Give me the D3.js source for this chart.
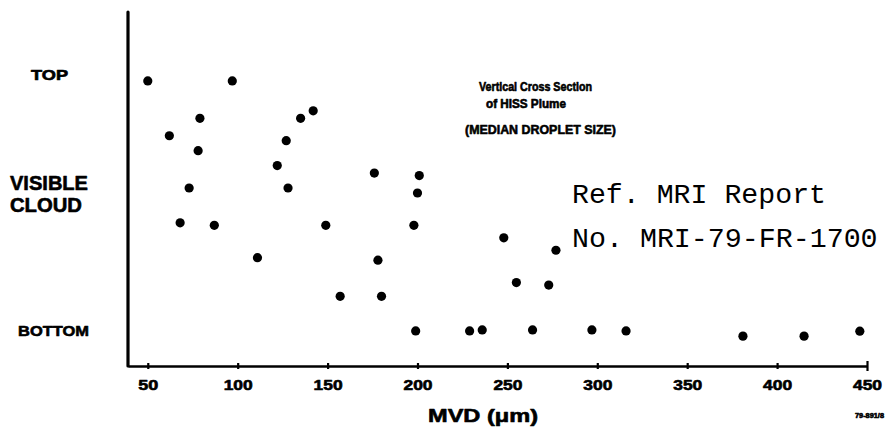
<!DOCTYPE html>
<html>
<head>
<meta charset="utf-8">
<script src="https://cdn.jsdelivr.net/npm/d3@7"></script>
<style>
  html, body { margin: 0; padding: 0; background: #fff; }
  svg { display: block; }
  .hand { font-family: "Liberation Sans", Arial, sans-serif; font-weight: bold; fill: #000;
          stroke: #000; stroke-width: 0.6; stroke-linejoin: round; }
  .typed { font-family: "Liberation Mono", "Courier New", monospace; fill: #000; }
</style>
</head>
<body>
<svg id="chart" width="888" height="430"></svg>
<script>
// Median volume diameter (µm) of each sample
const mvd = [50, 97, 142, 135, 79, 62, 127, 78, 122, 73, 128, 176, 201, 200,
             68, 87, 149, 198, 248, 277, 111, 178, 157, 180, 255, 273,
             199, 229, 236, 264, 297, 316, 381, 415, 446];
// Sample height in the visible cloud, % of depth (0 = bottom, 100 = top)
const heightPct = [100, 100, 88, 85, 85, 78, 76, 72, 66, 57, 57, 63, 62, 55,
                   43, 42, 42, 42, 37, 32, 29, 28, 13.5, 13.5, 19, 18,
                   -0.4, -0.4, 0, 0, 0, -0.4, -2.5, -2.5, -0.5];
// Axis tick values
const xTicks = [50, 100, 150, 200, 250, 300, 350, 400, 450];
// Level labels on the height axis
const levelLabels = [
  { lines: ["TOP"], at: 100 },
  { lines: ["VISIBLE", "CLOUD"], at: 56 },
  { lines: ["BOTTOM"], at: 0 }
];
const titleLines = ["Vertical Cross Section", "of HISS Plume", "(MEDIAN DROPLET SIZE)"];
const refLines = ["Ref. MRI Report", "No. MRI-79-FR-1700"];

const svg = d3.select("#chart");

const x = d3.scaleLinear().domain([39, 450]).range([128, 867]);
const y = d3.scaleLinear().domain([-14.5, 127.7]).range([366, 12]);

// Height axis: plain heavy line
svg.append("line")
  .attr("x1", x(39)).attr("x2", x(39))
  .attr("y1", y(127.7)).attr("y2", y(-14.5))
  .attr("stroke", "#000").attr("stroke-width", 3.2)
  .attr("stroke-linecap", "round");

// MVD axis
const xAxis = d3.axisBottom(x).tickValues(xTicks).tickSize(0).tickPadding(0).tickFormat(d3.format("d"));
const gx = svg.append("g").attr("transform", `translate(0,${y(-14.5)})`).call(xAxis);
gx.select(".domain").attr("stroke", "#000").attr("stroke-width", 2.6);
gx.selectAll(".tick line")
  .attr("y1", d => d === 450 ? -5 : -3)
  .attr("y2", d => d === 450 ? 5 : 3)
  .attr("stroke", "#000").attr("stroke-width", 2.2);
gx.selectAll(".tick text")
  .attr("class", "hand")
  .attr("font-size", 14)
  .attr("dy", 0)
  .attr("y", 24)
  .attr("text-anchor", "middle")
  .attr("textLength", d => String(d).length === 2 ? 20 : 29)
  .attr("lengthAdjust", "spacingAndGlyphs");
gx.attr("font-family", null).attr("font-size", null);

// Data points
svg.append("g").selectAll("circle")
  .data(mvd.map((v, i) => [v, heightPct[i]]))
  .join("circle")
  .attr("cx", d => x(d[0]))
  .attr("cy", d => y(d[1]))
  .attr("r", 4.6)
  .attr("fill", "#000");

// Level labels
const lvl = svg.append("g");
levelLabels.forEach(l => {
  const cy = y(l.at);
  if (l.lines.length === 1) {
    const big = l.lines[0] === "BOTTOM";
    lvl.append("text").attr("class", "hand")
      .attr("x", big ? 18 : 31)
      .attr("y", l.lines[0] === "TOP" ? cy - 1 : cy + 6)
      .attr("font-size", big ? 15 : 14)
      .attr("textLength", big ? 71 : 37)
      .attr("lengthAdjust", "spacingAndGlyphs")
      .text(l.lines[0]);
  } else {
    l.lines.forEach((t, i) => {
      lvl.append("text").attr("class", "hand")
        .attr("x", 10)
        .attr("y", cy + i * 22)
        .attr("font-size", 20)
        .attr("textLength", i === 0 ? 78 : 72)
        .attr("lengthAdjust", "spacingAndGlyphs")
        .text(t);
    });
  }
});

// Plot title block
const titleSpec = [
  { x: 479, y: 91, size: 12, len: 113 },
  { x: 486, y: 108, size: 12, len: 80 },
  { x: 465, y: 134, size: 13, len: 151 }
];
titleLines.forEach((t, i) => {
  svg.append("text").attr("class", "hand")
    .attr("x", titleSpec[i].x).attr("y", titleSpec[i].y)
    .attr("font-size", titleSpec[i].size)
    .attr("textLength", titleSpec[i].len)
    .attr("lengthAdjust", "spacingAndGlyphs")
    .text(t);
});

// Report reference
refLines.forEach((t, i) => {
  svg.append("text").attr("class", "typed")
    .attr("x", 572).attr("y", 203 + i * 44)
    .attr("font-size", 27)
    .attr("textLength", t.length * 17.2 - 4)
    .attr("lengthAdjust", "spacingAndGlyphs")
    .text(t);
});

// Axis title
svg.append("text").attr("class", "hand")
  .attr("x", 428).attr("y", 422)
  .attr("font-size", 18)
  .attr("textLength", 110)
  .attr("lengthAdjust", "spacingAndGlyphs")
  .text("MVD (\u03bcm)");

// Figure number
svg.append("text").attr("class", "hand")
  .attr("x", 855).attr("y", 418)
  .attr("font-size", 7)
  .attr("textLength", 29)
  .attr("lengthAdjust", "spacingAndGlyphs")
  .text("79-891/8");
</script>
</body>
</html>
